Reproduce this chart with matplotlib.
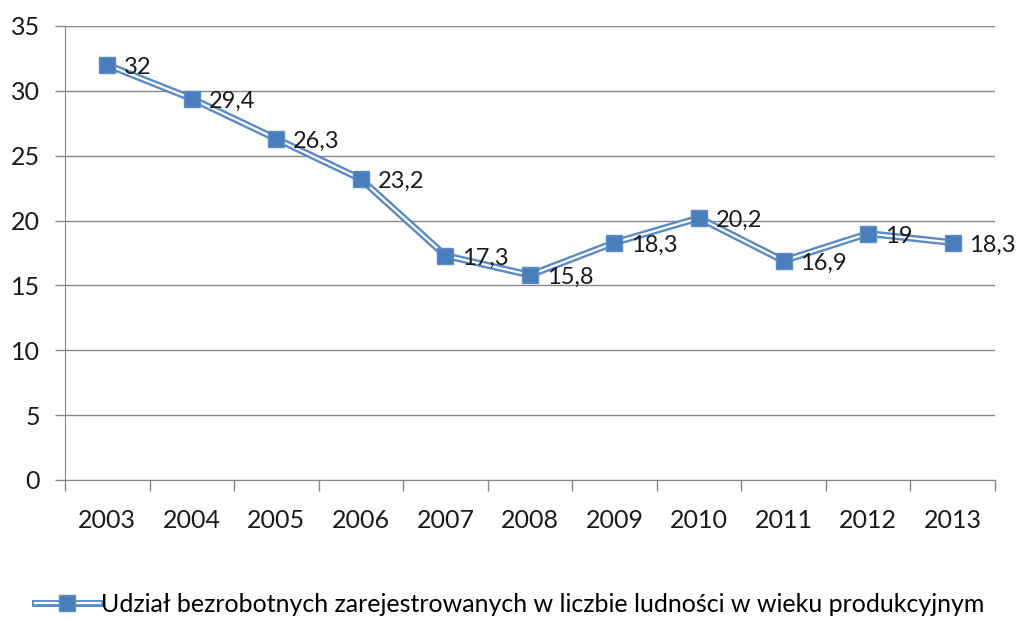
import matplotlib
matplotlib.use("Agg")
import matplotlib.pyplot as plt
from matplotlib.lines import Line2D
from matplotlib.legend_handler import HandlerTuple

years = ["2003", "2004", "2005", "2006", "2007", "2008", "2009", "2010", "2011", "2012", "2013"]
values = [32, 29.4, 26.3, 23.2, 17.3, 15.8, 18.3, 20.2, 16.9, 19, 18.3]
labels = ["32", "29,4", "26,3", "23,2", "17,3", "15,8", "18,3", "20,2", "16,9", "19", "18,3"]
series_name = "Udział bezrobotnych zarejestrowanych w liczbie ludności w wieku produkcyjnym"

plt.rcParams['font.family'] = ['Lato', 'DejaVu Sans']
fig = plt.figure(figsize=(10.19, 6.19), dpi=100)
ax = fig.add_axes([0.0638, 0.2246, 0.9125, 0.7334])

blue = "#4A7EBB"
outer = "#5A8AC6"
fs = 18
x = list(range(len(years)))
ax.plot(x, values, color=outer, lw=5, solid_joinstyle='miter', zorder=3)
ax.plot(x, values, color="white", lw=1.6, solid_joinstyle='miter', zorder=4)
ax.plot(x, values, ls='none', marker='s', markersize=11, markerfacecolor=blue,
        markeredgecolor="#5B8CC8", markeredgewidth=1, zorder=5)

for xi, v, lab in zip(x, values, labels):
    ax.annotate(lab, (xi, v), xytext=(12, -2), textcoords='offset points',
                ha='left', va='center', fontsize=17, color='#1a1a1a', zorder=6)

ax.set_xlim(-0.5, len(years) - 0.5)
ax.set_ylim(0, 35)
ax.set_yticks(range(0, 36, 5))
ax.set_xticks(x)
ax.set_xticklabels(years)
ax.set_xticks([i - 0.5 for i in range(len(years) + 1)], minor=True)
ax.tick_params(axis='x', which='major', length=0, pad=21, labelsize=fs, colors='#1a1a1a')
ax.tick_params(axis='x', which='minor', length=8, width=1, color='#868686', direction='out')
ax.tick_params(axis='y', length=7, width=1, color='#868686', pad=11, labelsize=fs, labelcolor='#1a1a1a')

ax.grid(axis='y', color='#868686', lw=1)
ax.set_axisbelow(True)
for s in ['top', 'right']:
    ax.spines[s].set_visible(False)
ax.spines['left'].set_color('#868686')
ax.spines['bottom'].set_color('#868686')

h1 = Line2D([], [], color=outer, lw=5)
h2 = Line2D([], [], color="white", lw=1.6)
h3 = Line2D([], [], ls='none', marker='s', markersize=11,
            markerfacecolor=blue, markeredgecolor="#5B8CC8")
fig.legend([(h1, h2, h3)], [series_name], loc='center', bbox_to_anchor=(0.5, 0.024),
           frameon=False, fontsize=fs, handlelength=2.6, handletextpad=0.05,
           handler_map={tuple: HandlerTuple(ndivide=1, pad=0)})

fig.savefig("out.png", dpi=100)
